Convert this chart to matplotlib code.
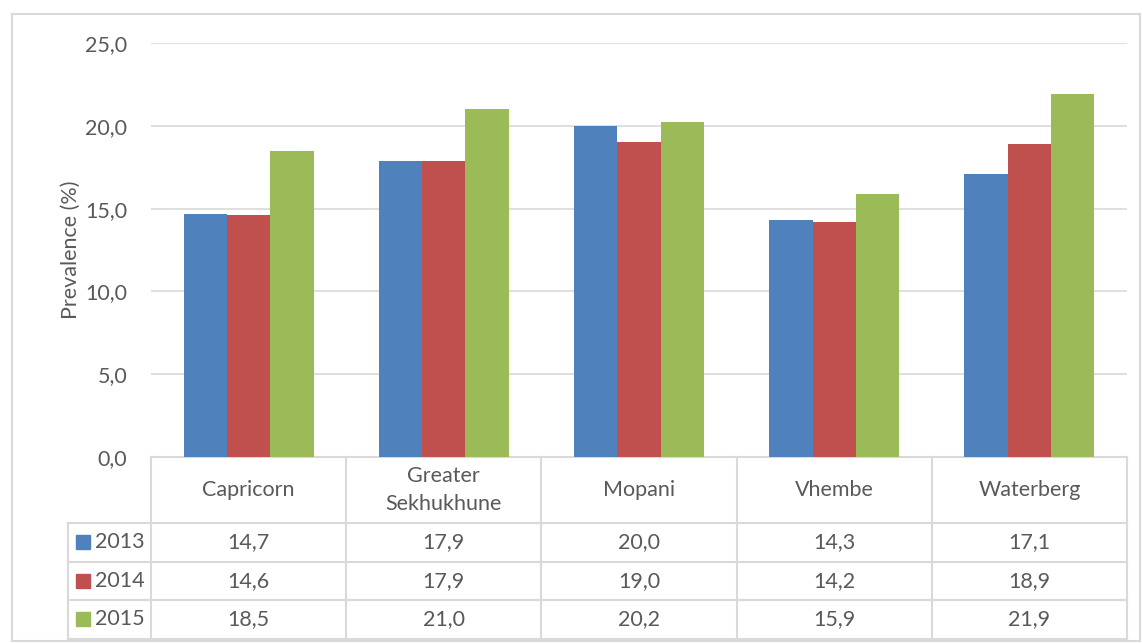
import matplotlib.pyplot as plt
import matplotlib.transforms as mtransforms
from matplotlib.patches import Rectangle
import numpy as np

districts = ['Capricorn', 'Greater\nSekhukhune', 'Mopani', 'Vhembe', 'Waterberg']
years = ['2013', '2014', '2015']
vals_2013 = [14.7, 17.9, 20.0, 14.3, 17.1]
vals_2014 = [14.6, 17.9, 19.0, 14.2, 18.9]
vals_2015 = [18.5, 21.0, 20.2, 15.9, 21.9]
yticks = [0, 5, 10, 15, 20, 25]

series = [vals_2013, vals_2014, vals_2015]
colors = ['#4F81BD', '#C0504D', '#9BBB59']
grid_col = '#D9D9D9'
txt_col = '#595959'
fs = 15.5

plt.rcParams['font.family'] = ['Lato', 'DejaVu Sans']

W, H = 1142, 643
fig = plt.figure(figsize=(W / 100, H / 100), dpi=100)
ax = fig.add_axes([151 / W, 1 - 457 / H, (1127 - 151) / W, (457 - 43) / H])

x = np.arange(len(districts))
bw = 0.222
for i, (vals, c) in enumerate(zip(series, colors)):
    ax.bar(x + (i - 1) * bw, vals, width=bw, color=c, zorder=3)

ax.set_xlim(-0.5, len(districts) - 0.5)
ax.set_ylim(0, 25)
ax.set_yticks(yticks)
ax.set_yticklabels([f'{v:.1f}'.replace('.', ',') for v in yticks])
ax.tick_params(axis='y', length=0, pad=17, labelsize=fs, colors=txt_col)
ax.tick_params(axis='x', length=0, labelbottom=False)
ax.grid(axis='y', color=grid_col, lw=1.2, zorder=0)
for s in ax.spines.values():
    s.set_visible(False)
ax.set_ylabel('Prevalence (%)', fontsize=fs, color=txt_col, labelpad=3)

# data table under the axis
tr = mtransforms.blended_transform_factory(ax.transData, ax.transAxes)
px = 1 / 414  # one pixel in axes-fraction units
row_head = 66 * px
row_h = 38.5 * px
label_left = -0.5 - 83 / 195
y_head = -row_head
y_rows = [y_head - row_h * (k + 1) for k in range(3)]
lw = 1.5

def hline(x0, x1, y):
    ax.plot([x0, x1], [y, y], color=grid_col, lw=lw, transform=tr, clip_on=False)

def vline(xv, y0, y1):
    ax.plot([xv, xv], [y0, y1], color=grid_col, lw=lw, transform=tr, clip_on=False)

hline(-0.5, len(districts) - 0.5, 0)
for yy in [y_head] + y_rows:
    hline(label_left, len(districts) - 0.5, yy)
for k in range(len(districts) + 1):
    vline(k - 0.5, 0, y_rows[-1])
vline(label_left, y_head, y_rows[-1])

for k, name in enumerate(districts):
    ax.text(k, y_head / 2, name, transform=tr, ha='center', va='center',
            fontsize=fs, color=txt_col, linespacing=1.5)
    for r, vals in enumerate(series):
        yc = y_head - row_h * (r + 0.5)
        ax.text(k, yc, f'{vals[k]:.1f}'.replace('.', ','), transform=tr,
                ha='center', va='center', fontsize=fs, color=txt_col)

for r, (yr, c) in enumerate(zip(years, colors)):
    yc = y_head - row_h * (r + 0.5)
    ax.add_patch(Rectangle((label_left + 0.04, yc - 7 * px), 14 / 195, 14 * px,
                           color=c, transform=tr, clip_on=False))
    ax.text(label_left + 0.14, yc, yr, transform=tr, ha='left', va='center',
            fontsize=fs, color=txt_col)

# outer chart border
fig.add_artist(Rectangle((12 / W, 1 - 641 / H), (1140 - 12) / W, (641 - 14) / H,
                         transform=fig.transFigure, fill=False,
                         edgecolor=grid_col, lw=1.5))

fig.savefig('out.png', dpi=100)
